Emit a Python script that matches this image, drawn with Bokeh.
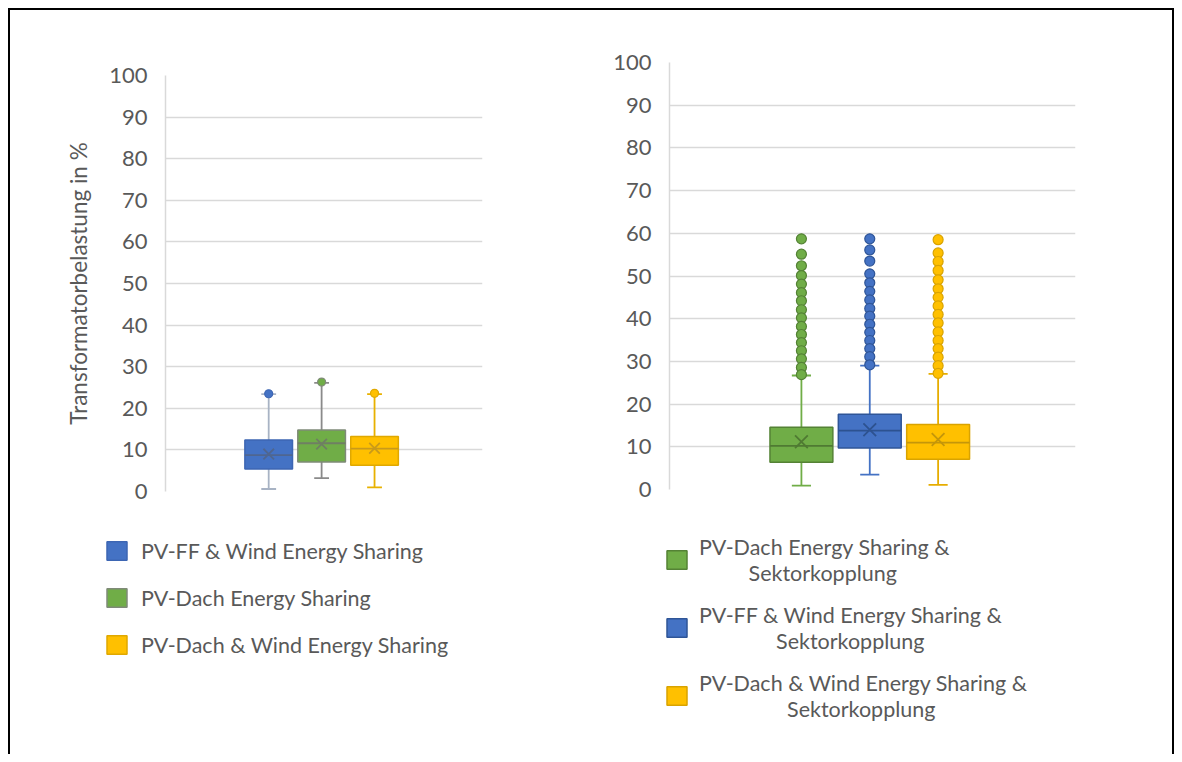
from bokeh.plotting import figure
from bokeh.models import Range1d, FixedTicker, Legend, LegendItem, ColumnDataSource
from bokeh.layouts import row, column
from bokeh.embed import file_html
from bokeh.resources import INLINE

FONT = "Lato"
TXT = "#595959"
GRID = "#d9d9d9"

# ---------------- data ----------------
y_ticks = [0, 10, 20, 30, 40, 50, 60, 70, 80, 90, 100]
y_title = "Transformatorbelastung in %"

left_series = ["PV-FF & Wind Energy Sharing", "PV-Dach Energy Sharing",
               "PV-Dach & Wind Energy Sharing"]
left_min = [0.6, 3.2, 1.0]
left_q1 = [5.4, 7.1, 6.3]
left_median = [8.75, 11.6, 10.3]
left_q3 = [12.4, 14.8, 13.2]
left_max = [23.4, 26.1, 23.4]
left_mean = [9.0, 11.4, 10.4]
left_out_1 = [23.5]
left_out_2 = [26.3]
left_out_3 = [23.6]

right_series = ["PV-Dach Energy Sharing &\nSektorkopplung",
                "PV-FF & Wind Energy Sharing &\nSektorkopplung",
                "PV-Dach & Wind Energy Sharing &\nSektorkopplung"]
right_min = [0.9, 3.5, 1.1]
right_q1 = [6.4, 9.7, 7.1]
right_median = [10.2, 13.8, 11.0]
right_q3 = [14.6, 17.6, 15.2]
right_max = [26.7, 29.0, 27.1]
right_mean = [11.2, 14.0, 11.7]
right_out_1 = [58.7, 55.1, 52.4, 50.1, 48.1, 46.1, 44.2, 42.1, 40.2, 38.2,
               36.3, 34.4, 32.5, 30.6, 28.6, 26.9]
right_out_2 = [58.7, 56.1, 53.5, 50.5, 48.4, 46.4, 44.4, 42.4, 40.6, 38.7,
               36.8, 34.9, 33.0, 31.1, 29.2]
right_out_3 = [58.5, 55.4, 53.4, 51.3, 49.1, 47.0, 45.0, 43.0, 41.0, 39.0,
               36.9, 34.9, 33.0, 31.0, 29.0, 27.2]

# ---------------- styles ----------------
left_fill = ["#4472C4", "#70AD47", "#FFC000"]
left_line = ["#3d66b3", "#7f8a78", "#e0a800"]
left_median_col = ["#4f6690", "#6f7f63", "#c99a1a"]
left_whisker_col = ["#a8b3c4", "#8a8a8a", "#e8b100"]

right_fill = ["#70AD47", "#4472C4", "#FFC000"]
right_line = ["#548235", "#2F5597", "#D9A300"]
right_median_col = ["#4f7a32", "#2d5290", "#c4960a"]
right_whisker_col = ["#70AD47", "#4472C4", "#E6AD00"]

LEG_SIZE = "21.5px"


def centered_label(text):
    # centre the second line of a two-line legend label under the first one
    lines = text.split("\n")
    if len(lines) < 2:
        return text
    n = round((len(lines[0]) - len(lines[1])) * 0.93)
    return lines[0] + "\n" + "\u00a0" * n + lines[1]


def build(mins, q1s, meds, q3s, maxs, means, outs, fills, lines, med_cols,
          wh_cols, width, height, mb, xr, box_w, cap_w, mean_size, dot_size, ylabel):
    p = figure(width=width, height=height, output_backend="svg", toolbar_location=None,
               x_range=Range1d(*xr), y_range=Range1d(0, 100),
               min_border_left=mb[0], min_border_right=mb[1],
               min_border_top=mb[2], min_border_bottom=mb[3])
    p.frame_align = False
    p.background_fill_color = "white"
    p.border_fill_color = "white"
    p.outline_line_color = None
    p.xaxis.visible = False
    p.xgrid.visible = False
    p.ygrid.grid_line_color = GRID
    p.ygrid.grid_line_width = 1.5
    p.yaxis.ticker = FixedTicker(ticks=y_ticks)
    p.yaxis.axis_line_color = GRID
    p.yaxis.axis_line_width = 1.5
    p.yaxis.major_tick_line_color = None
    p.yaxis.minor_tick_line_color = None
    p.yaxis.major_tick_out = 0
    p.yaxis.major_tick_in = 0
    p.yaxis.major_label_standoff = 18
    p.yaxis.major_label_text_font = FONT
    p.yaxis.major_label_text_font_size = "22px"
    p.yaxis.major_label_text_color = TXT
    if ylabel:
        p.yaxis.axis_label = ylabel
        p.yaxis.axis_label_text_font = FONT
        p.yaxis.axis_label_text_font_size = "22.5px"
        p.yaxis.axis_label_text_font_style = "normal"
        p.yaxis.axis_label_text_color = TXT
        p.yaxis.axis_label_standoff = 14

    pos = list(range(len(mins)))
    half = box_w / 2
    src = ColumnDataSource(dict(
        x=pos, lo=mins, q1=q1s, med=meds, q3=q3s, hi=maxs, mean=means,
        xl=[x - half for x in pos], xr=[x + half for x in pos],
        cl=[x - cap_w / 2 for x in pos], cr=[x + cap_w / 2 for x in pos],
        fill=fills, line=lines, medc=med_cols, whc=wh_cols))

    p.segment(x0="x", x1="x", y0="lo", y1="q1", line_color="whc", line_width=1.8, source=src)
    p.segment(x0="x", x1="x", y0="q3", y1="hi", line_color="whc", line_width=1.8, source=src)
    p.segment(x0="cl", x1="cr", y0="lo", y1="lo", line_color="whc", line_width=1.8, source=src)
    p.segment(x0="cl", x1="cr", y0="hi", y1="hi", line_color="whc", line_width=1.8, source=src)
    p.vbar(x="x", bottom="q1", top="q3", width=box_w, fill_color="fill",
           line_color="line", line_width=1.5, source=src)
    p.segment(x0="xl", x1="xr", y0="med", y1="med", line_color="medc", line_width=1.8, source=src)
    p.scatter(x="x", y="mean", marker="x", size=mean_size, line_color="medc",
              line_width=1.8, source=src)

    ox, oy, of, ol = [], [], [], []
    for i, vals in enumerate(outs):
        for v in vals:
            ox.append(pos[i]); oy.append(v); of.append(fills[i]); ol.append(lines[i])
    p.scatter(x=ox, y=oy, marker="circle", size=dot_size, fill_color=of, line_color=ol,
              line_width=1.2)
    return p


def legend_fig(series, q1s, q3s, fills, lines, width, height, legend_kw):
    f = figure(width=width, height=height, output_backend="svg", toolbar_location=None,
               x_axis_location=None, y_axis_location=None,
               x_range=Range1d(0, 1), y_range=Range1d(0, 1), min_border=0)
    f.frame_align = False
    f.outline_line_color = None
    f.background_fill_color = "white"
    f.border_fill_color = "white"
    f.xgrid.visible = False
    f.ygrid.visible = False
    pos = list(range(len(series)))
    src = ColumnDataSource(dict(x=pos, q1=q1s, q3=q3s, fill=fills, line=lines))
    r = f.vbar(x="x", bottom="q1", top="q3", width=0.9, fill_color="fill",
               line_color="line", line_width=1.5, source=src)
    r.visible = False
    items = [LegendItem(label=centered_label(s), renderers=[r], index=i)
             for i, s in enumerate(series)]
    leg = Legend(items=items, **legend_kw)
    leg.label_text_font = FONT
    leg.label_text_font_size = LEG_SIZE
    leg.label_text_color = TXT
    leg.border_line_color = None
    leg.background_fill_alpha = 0
    leg.padding = 0
    leg.margin = 0
    f.add_layout(leg)
    return f


p1 = build(left_min, left_q1, left_median, left_q3, left_max, left_mean,
           [left_out_1, left_out_2, left_out_3], left_fill, left_line, left_median_col,
           left_whisker_col, 580, 500, (155, 108, 65, 19), (-1.95, 4.04), 0.9, 0.28,
           15, 8, y_title)
l1 = legend_fig(left_series, left_q1, left_q3, left_fill, left_line, 580, 244,
                dict(location=(94, 96.5), glyph_width=25, glyph_height=23, label_height=23,
                     label_standoff=12, spacing=21))

p2 = build(right_min, right_q1, right_median, right_q3, right_max, right_mean,
           [right_out_1, right_out_2, right_out_3], right_fill, right_line, right_median_col,
           right_whisker_col, 582, 500, (79, 97, 52, 21), (-1.93, 4.01), 0.92, 0.28,
           18, 10, None)
l2 = legend_fig(right_series, right_q1, right_q3, right_fill, right_line, 582, 244,
                dict(location=(74, 32.5), glyph_width=25, glyph_height=23, label_height=23,
                     label_standoff=10, spacing=16))

layout = row(column(p1, l1), column(p2, l2),
             styles={"margin-left": "8px", "margin-top": "8px",
                     "border-left": "2px solid black", "border-top": "2px solid black",
                     "border-right": "2px solid black", "background": "white"})

open("out.html", "w").write(file_html(layout, INLINE))
